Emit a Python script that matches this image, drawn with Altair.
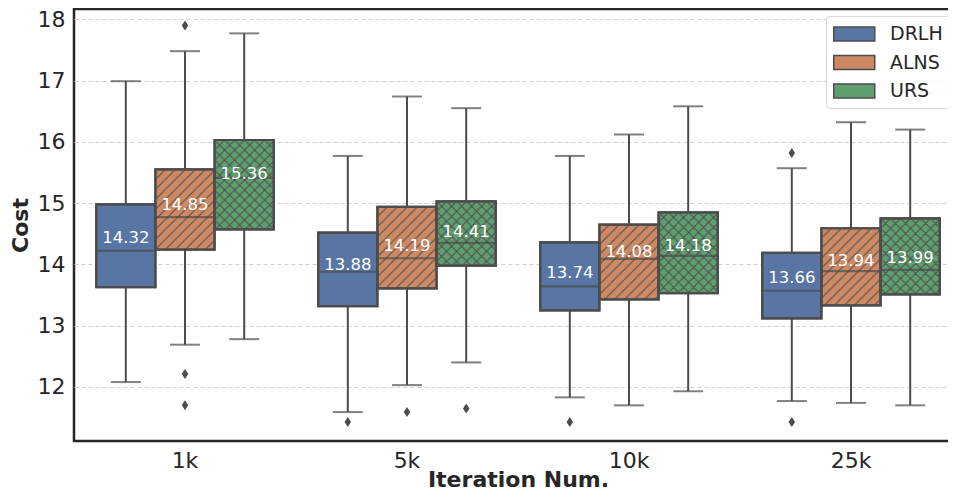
import urllib.parse
import altair as alt
import pandas as pd

iterations = ["1k", "5k", "10k", "25k"]
methods = ["DRLH", "ALNS", "URS"]

whisker_low = {"DRLH": [12.08, 11.59, 11.83, 11.77],
               "ALNS": [12.69, 12.03, 11.70, 11.74],
               "URS":  [12.78, 12.40, 11.93, 11.70]}
quartile1 = {"DRLH": [13.63, 13.32, 13.25, 13.12],
             "ALNS": [14.24, 13.61, 13.43, 13.33],
             "URS":  [14.57, 13.98, 13.53, 13.51]}
median = {"DRLH": [14.22, 13.88, 13.64, 13.57],
          "ALNS": [14.77, 14.10, 14.09, 13.89],
          "URS":  [15.41, 14.35, 14.14, 13.91]}
quartile3 = {"DRLH": [14.98, 14.52, 14.36, 14.19],
             "ALNS": [15.55, 14.94, 14.65, 14.59],
             "URS":  [16.03, 15.03, 14.85, 14.75]}
whisker_high = {"DRLH": [16.99, 15.77, 15.77, 15.57],
                "ALNS": [17.48, 16.74, 16.12, 16.32],
                "URS":  [17.77, 16.55, 16.58, 16.20]}
mean = {"DRLH": [14.32, 13.88, 13.74, 13.66],
        "ALNS": [14.85, 14.19, 14.08, 13.94],
        "URS":  [15.36, 14.41, 14.18, 13.99]}

outlier_iter = ["1k", "1k", "1k", "5k", "5k", "5k", "10k", "25k", "25k"]
outlier_method = ["ALNS", "ALNS", "ALNS", "DRLH", "ALNS", "URS", "DRLH", "DRLH", "DRLH"]
outlier_value = [17.90, 12.21, 11.70, 11.43, 11.59, 11.65, 11.43, 15.82, 11.43]

colors = ["#5875a4", "#cc8963", "#5f9e6e"]
LINE = "#4c4c4c"

rows = []
for m in methods:
    for i, it in enumerate(iterations):
        rows.append(dict(iteration=it, method=m, lo=whisker_low[m][i], q1=quartile1[m][i],
                         med=median[m][i], q3=quartile3[m][i], hi=whisker_high[m][i],
                         mean=mean[m][i]))
box = pd.DataFrame(rows)
outl = pd.DataFrame(dict(iteration=outlier_iter, method=outlier_method, value=outlier_value))


def hatch_uri(path):
    svg = ("<svg xmlns='http://www.w3.org/2000/svg' width='100%' height='100%'>"
           "<defs><pattern id='h' patternUnits='userSpaceOnUse' width='10' height='10'>"
           f"<path d='{path}' stroke='{LINE}' stroke-width='1' fill='none'/></pattern></defs>"
           "<rect width='100%' height='100%' fill='url(#h)'/></svg>")
    return "data:image/svg+xml," + urllib.parse.quote(svg)


slash = "M0,10L10,0M-5,5L5,-5M5,15L15,5"
cross = slash + "M0,0L10,10M-5,5L5,15M5,-5L15,5"
uri_slash = hatch_uri(slash)
uri_cross = hatch_uri(cross)

X = alt.X("iteration:N", sort=iterations,
          scale=alt.Scale(domain=iterations, paddingInner=0.2, paddingOuter=0.1),
          axis=alt.Axis(title="Iteration Num.", labelAngle=0, ticks=False, domain=False,
                        labelPadding=9, titlePadding=-2, grid=False))
XO = alt.XOffset("method:N", sort=methods,
                 scale=alt.Scale(domain=methods, paddingInner=0, paddingOuter=0))
yscale = alt.Scale(domain=[11.118, 18.168], nice=False, zero=False)
yaxis = alt.Axis(title="Cost", values=[12, 13, 14, 15, 16, 17, 18], ticks=False, domain=False,
                 labelPadding=9, titlePadding=5, grid=True)


def Y(field):
    return alt.Y(f"{field}:Q", scale=yscale, axis=yaxis, title="Cost")


def Y2(field):
    return alt.Y2(f"{field}:Q")


base = alt.Chart(box)

whisk = base.mark_rule(color=LINE, strokeWidth=2).encode(x=X, xOffset=XO, y=Y("lo"), y2=Y2("hi"))
cap_lo = base.mark_tick(color=LINE, size=30, thickness=2).encode(x=X, xOffset=XO, y=Y("lo"))
cap_hi = base.mark_tick(color=LINE, size=30, thickness=2).encode(x=X, xOffset=XO, y=Y("hi"))
boxes = base.mark_bar(stroke=LINE, strokeWidth=2.2, opacity=1).encode(
    x=X, xOffset=XO, y=Y("q1"), y2=Y2("q3"),
    color=alt.Color("method:N", sort=methods,
                    scale=alt.Scale(domain=methods, range=colors),
                    legend=alt.Legend(title=None, orient="none", legendX=752, legendY=7,
                                      symbolType="M-1,-0.68L3,-0.68L3,0.68L-1,0.68Z",
                                      symbolSize=420, symbolStrokeColor=LINE,
                                      symbolStrokeWidth=1.5, symbolOpacity=1,
                                      labelOffset=35, labelFontSize=19, labelColor="#262626",
                                      rowPadding=7.5, padding=7, strokeColor="#d6d6d6",
                                      cornerRadius=4, fillColor="rgba(255,255,255,0.85)")))
hatch_a = base.transform_filter(alt.datum.method == "ALNS").mark_image(aspect=False).encode(
    x=X, xOffset=XO, y=Y("q1"), y2=Y2("q3"), url=alt.value(uri_slash))
hatch_u = base.transform_filter(alt.datum.method == "URS").mark_image(aspect=False).encode(
    x=X, xOffset=XO, y=Y("q1"), y2=Y2("q3"), url=alt.value(uri_cross))
outline = base.mark_bar(fillOpacity=0, stroke=LINE, strokeWidth=2.2).encode(
    x=X, xOffset=XO, y=Y("q1"), y2=Y2("q3"))
med = base.mark_tick(color=LINE, size=59, thickness=2.2).encode(x=X, xOffset=XO, y=Y("med"))
pts = alt.Chart(outl).mark_point(
    shape="M0,-1L0.65,0L0,1L-0.65,0Z", filled=True, size=100, color=LINE, opacity=1
).encode(x=X, xOffset=XO, y=Y("value"))
txt = base.mark_text(color="white", fontSize=16.5, baseline="alphabetic", dy=-2).encode(
    x=X, xOffset=XO, y=Y("mean"), text=alt.Text("mean:Q", format=".2f"))

chart = alt.layer(whisk, cap_lo, cap_hi, boxes, hatch_a, hatch_u, outline, med, pts, txt).properties(
    width=888, height=432,
    autosize=alt.AutoSizeParams(type="none"),
    padding={"left": 66, "top": 1, "right": -14, "bottom": 50},
).configure(font="DejaVu Sans").configure_view(
    stroke="#262626", strokeWidth=2.5
).configure_axis(
    labelFont="DejaVu Sans", titleFont="DejaVu Sans", labelFontSize=22, titleFontSize=22,
    labelColor="#262626", titleColor="#262626", titleFontWeight="bold",
    gridColor="#cfcfcf", gridDash=[4, 3], gridWidth=1
).configure_legend(labelFont="DejaVu Sans")

chart.save("out.html", embed_options={"renderer": "svg", "actions": False})
